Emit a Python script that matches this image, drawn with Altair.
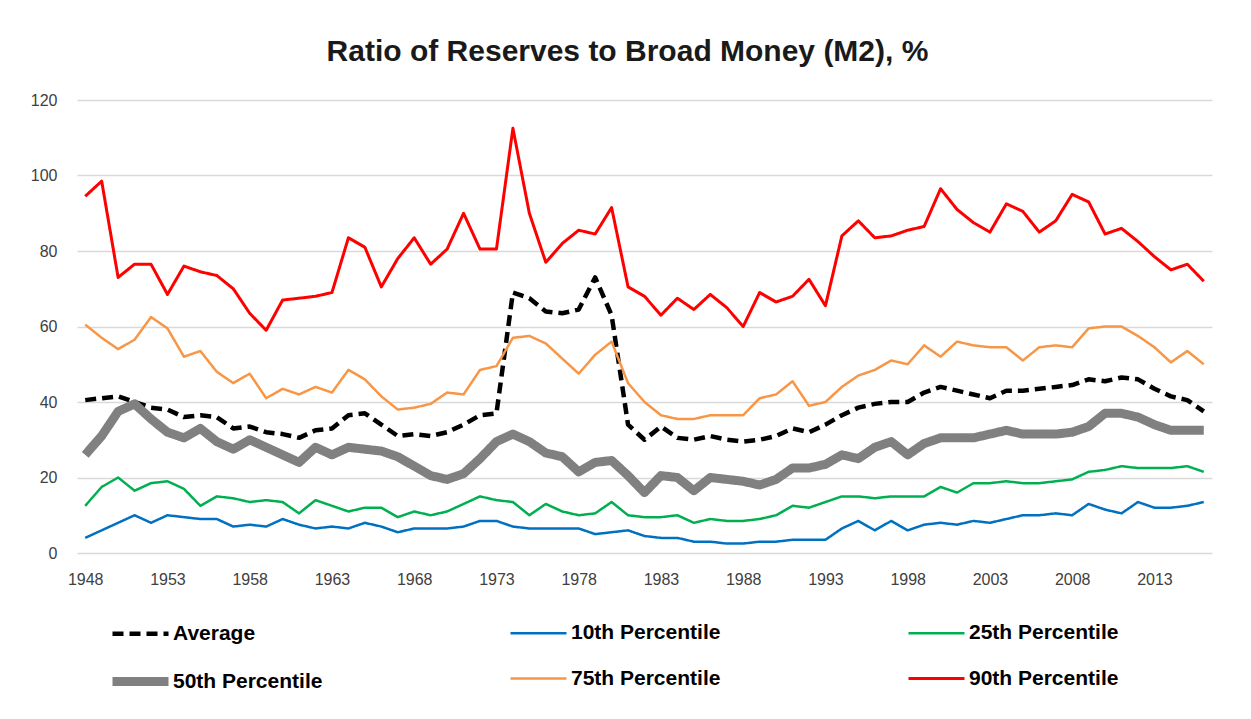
import altair as alt
import pandas as pd

years = list(range(1948, 2017))

average = [40.5, 41, 41.5, 40, 38.5, 38, 36, 36.5, 36, 33, 33.5, 32, 31.5, 30.5, 32.5, 33,
           36.5, 37, 34, 31, 31.5, 31, 32, 34, 36.5, 37, 69, 67.5, 64, 63.5, 64.5, 73, 63,
           34, 30, 33.5, 30.5, 30, 31, 30, 29.5, 30, 31, 33, 32, 34, 36.5, 38.5, 39.5, 40,
           40, 42.5, 44, 43, 42, 41, 43, 43, 43.5, 44, 44.5, 46, 45.5, 46.5, 46, 43.5, 41.5,
           40.5, 37.5]
p10 = [4, 6, 8, 10, 8, 10, 9.5, 9, 9, 7, 7.5, 7, 9, 7.5, 6.5, 7, 6.5, 8, 7, 5.5, 6.5, 6.5,
       6.5, 7, 8.5, 8.5, 7, 6.5, 6.5, 6.5, 6.5, 5, 5.5, 6, 4.5, 4, 4, 3, 3, 2.5, 2.5, 3, 3,
       3.5, 3.5, 3.5, 6.5, 8.5, 6, 8.5, 6, 7.5, 8, 7.5, 8.5, 8, 9, 10, 10, 10.5, 10, 13,
       11.5, 10.5, 13.5, 12, 12, 12.5, 13.5]
p25 = [12.5, 17.5, 20, 16.5, 18.5, 19, 17, 12.5, 15, 14.5, 13.5, 14, 13.5, 10.5, 14, 12.5,
       11, 12, 12, 9.5, 11, 10, 11, 13, 15, 14, 13.5, 10, 13, 11, 10, 10.5, 13.5, 10, 9.5,
       9.5, 10, 8, 9, 8.5, 8.5, 9, 10, 12.5, 12, 13.5, 15, 15, 14.5, 15, 15, 15, 17.5, 16,
       18.5, 18.5, 19, 18.5, 18.5, 19, 19.5, 21.5, 22, 23, 22.5, 22.5, 22.5, 23, 21.5]
p50 = [26, 31, 37.5, 39.5, 35.5, 32, 30.5, 33, 29.5, 27.5, 30, 28, 26, 24, 28, 26, 28, 27.5,
       27, 25.5, 23, 20.5, 19.5, 21, 25, 29.5, 31.5, 29.5, 26.5, 25.5, 21.5, 24, 24.5, 20.5,
       16, 20.5, 20, 16.5, 20, 19.5, 19, 18, 19.5, 22.5, 22.5, 23.5, 26, 25, 28, 29.5, 26,
       29, 30.5, 30.5, 30.5, 31.5, 32.5, 31.5, 31.5, 31.5, 32, 33.5, 37, 37, 36, 34, 32.5,
       32.5, 32.5]
p75 = [60.5, 57, 54, 56.5, 62.5, 59.5, 52, 53.5, 48, 45, 47.5, 41, 43.5, 42, 44, 42.5, 48.5,
       46, 41.5, 38, 38.5, 39.5, 42.5, 42, 48.5, 49.5, 57, 57.5, 55.5, 51.5, 47.5, 52.5, 56,
       45, 40, 36.5, 35.5, 35.5, 36.5, 36.5, 36.5, 41, 42, 45.5, 39, 40, 44, 47, 48.5, 51,
       50, 55, 52, 56, 55, 54.5, 54.5, 51, 54.5, 55, 54.5, 59.5, 60, 60, 57.5, 54.5, 50.5,
       53.5, 50]
p90 = [94.5, 98.5, 73, 76.5, 76.5, 68.5, 76, 74.5, 73.5, 70, 63.5, 59, 67, 67.5, 68, 69,
       83.5, 81, 70.5, 78, 83.5, 76.5, 80.5, 90, 80.5, 80.5, 112.5, 90, 77, 82, 85.5, 84.5,
       91.5, 70.5, 68, 63, 67.5, 64.5, 68.5, 65, 60, 69, 66.5, 68, 72.5, 65.5, 84, 88, 83.5,
       84, 85.5, 86.5, 96.5, 91, 87.5, 85, 92.5, 90.5, 85, 88, 95, 93, 84.5, 86, 82.5, 78.5,
       75, 76.5, 72]

series_names = ["Average", "10th Percentile", "25th Percentile",
                "50th Percentile", "75th Percentile", "90th Percentile"]
series_values = [average, p10, p25, p50, p75, p90]
series_colors = ["#000000", "#0070C0", "#00B050", "#808080", "#F79646", "#FF0000"]
series_widths = [4.5, 2.5, 2.5, 9, 2.5, 3]
series_dashes = [[11, 6], [1, 0], [1, 0], [1, 0], [1, 0], [1, 0]]

# legend is filled column by column (2 rows x 3 columns)
legend_order = ["Average", "50th Percentile", "10th Percentile",
                "75th Percentile", "25th Percentile", "90th Percentile"]
idx = [series_names.index(s) for s in legend_order]
legend_colors = [series_colors[i] for i in idx]
legend_widths = [series_widths[i] for i in idx]
legend_dashes = [series_dashes[i] for i in idx]

tick_years = list(range(1948, 2017, 5))
y_ticks = [0, 20, 40, 60, 80, 100, 120]

rows = []
for name, vals in zip(series_names, series_values):
    for yr, v in zip(years, vals):
        rows.append({"year": yr, "value": v, "series": name})
df = pd.DataFrame(rows)

font = "Liberation Sans Narrow, Liberation Sans, Arial, sans-serif"

chart = alt.Chart(df).mark_line(strokeJoin="round").encode(
    x=alt.X("year:Q",
            scale=alt.Scale(domain=[1947.5, 2016.5], nice=False, zero=False),
            axis=alt.Axis(values=tick_years, format="d", title=None, grid=False,
                          ticks=False, domain=False, labelFontSize=16,
                          labelColor="#404040", labelFont=font, labelPadding=18)),
    y=alt.Y("value:Q",
            scale=alt.Scale(domain=[0, 120], nice=False),
            axis=alt.Axis(values=y_ticks, title=None, ticks=False, domain=False,
                          gridColor="#D9D9D9", gridWidth=1.5, labelFontSize=16,
                          labelColor="#404040", labelFont=font, labelPadding=20)),
    color=alt.Color("series:N",
                    scale=alt.Scale(domain=legend_order, range=legend_colors),
                    legend=alt.Legend(title=None, orient="none", legendX=31, legendY=498,
                                      columns=3, symbolType="stroke", symbolSize=3136,
                                      labelFontSize=21, labelFont=font,
                                      labelFontWeight="bold", labelColor="#000000",
                                      labelOffset=0, columnPadding=181, rowPadding=-7,
                                      gridAlign="all", labelLimit=300)),
    strokeDash=alt.StrokeDash("series:N",
                              scale=alt.Scale(domain=legend_order, range=legend_dashes),
                              legend=alt.Legend(title=None)),
    strokeWidth=alt.StrokeWidth("series:N",
                                scale=alt.Scale(type="ordinal", domain=legend_order,
                                                range=legend_widths),
                                legend=alt.Legend(title=None)),
).properties(
    width=1135,
    height=453,
    title=alt.TitleParams("Ratio of Reserves to Broad Money (M2), %", fontSize=30,
                          font=font, fontWeight="bold", color="#1a1a1a",
                          anchor="middle", dx=-17, offset=25),
    autosize=alt.AutoSizeParams(type="none"),
    padding={"left": 69, "top": 92, "right": 31, "bottom": 158},
).configure_view(stroke=None)

chart.save("out.html", embed_options={"renderer": "svg", "actions": False})
